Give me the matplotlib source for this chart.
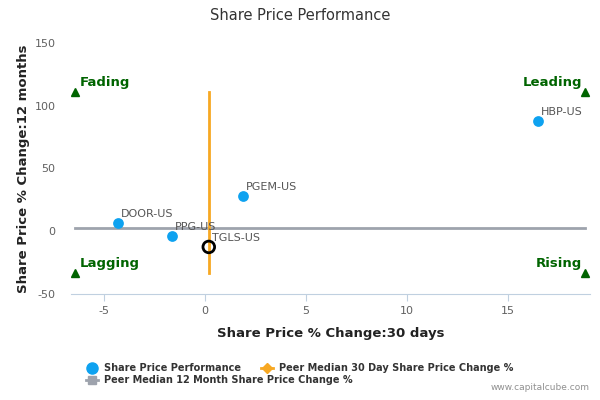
import matplotlib.pyplot as plt
from matplotlib.lines import Line2D

plt.rcParams['axes.unicode_minus'] = False

# data
tickers = ['HBP-US', 'PGEM-US', 'DOOR-US', 'PPG-US']
chg_30d = [16.5, 1.9, -4.3, -1.6]
chg_12m = [87.6, 28.0, 6.4, -4.0]

focus_name = 'TGLS-US'
focus_30d = 0.2
focus_12m = -12.5

median_30d = 0.2
median_12m = 2.4
span_30d = [-6.4, 18.8]
span_12m = [-33, 111]

quadrants = ['Fading', 'Leading', 'Lagging', 'Rising']

blue = '#0ea2f0'
orange = '#f7a823'
grey = '#9ea3ad'
green = '#006400'
label_grey = '#555555'

fig = plt.figure(figsize=(6, 4), dpi=100)
ax = fig.add_axes([0.118, 0.265, 0.865, 0.6275])

# peer median lines
ax.plot(span_30d, [median_12m, median_12m], color=grey, lw=2, zorder=1)
ax.plot([median_30d, median_30d], span_12m, color=orange, lw=2, zorder=2)

# peers
ax.scatter(chg_30d, chg_12m, s=60, color=blue, zorder=3, linewidths=0)
for name, x, y in zip(tickers, chg_30d, chg_12m):
    ax.annotate(name, (x, y), xytext=(2, 3), textcoords='offset points',
                fontsize=8, color=label_grey, ha='left', va='bottom')

# the company itself
ax.scatter([focus_30d], [focus_12m], s=70, facecolor='none', edgecolor='black',
           linewidths=2, zorder=4)
ax.annotate(focus_name, (focus_30d, focus_12m), xytext=(2, 3), textcoords='offset points',
            fontsize=8, color=label_grey, ha='left', va='bottom')

# quadrant markers and names
corners = [(span_30d[0], span_12m[1]), (span_30d[1], span_12m[1]),
           (span_30d[0], span_12m[0]), (span_30d[1], span_12m[0])]
for name, (x, y) in zip(quadrants, corners):
    ax.plot(x, y, marker='^', color=green, markersize=6, zorder=3)
    left = x < 0
    ax.annotate(name, (x, y), xytext=(3 if left else -2, 2), textcoords='offset points',
                fontsize=9.5, fontweight='bold', color=green,
                ha='left' if left else 'right', va='bottom')

ax.set_xlim(-6.63, 19.06)
ax.set_ylim(-50, 150)
ax.set_xticks([-5, 0, 5, 10, 15])
ax.set_yticks([-50, 0, 50, 100, 150])
ax.tick_params(axis='x', colors='#c0d0e0', labelcolor='#606060', labelsize=8, length=5)
ax.tick_params(axis='y', length=0, labelcolor='#606060', labelsize=8, pad=11)
for side in ['top', 'right', 'left']:
    ax.spines[side].set_visible(False)
ax.spines['bottom'].set_color('#c0d0e0')

ax.set_xlabel('Share Price % Change:30 days', fontsize=9.5, fontweight='bold', color='#222222', labelpad=8)
ax.set_ylabel('Share Price % Change:12 months', fontsize=9.5, fontweight='bold', color='#222222', labelpad=3)

fig.text(0.5, 0.96, 'Share Price Performance', ha='center', va='center', fontsize=10.5,
         color='#333333')

# legend, laid out in rows like the original
h_blue = Line2D([], [], marker='o', color=blue, lw=0, markersize=8)
h_orange = Line2D([], [], marker='D', color=orange, lw=2, markersize=5)
h_grey = Line2D([], [], marker='s', color=grey, lw=2, markersize=6)
leg_kw = dict(loc='upper left', frameon=False, fontsize=7, handlelength=1.3, handletextpad=0.6,
              columnspacing=2.0, borderaxespad=0, borderpad=0)
leg1 = fig.legend([h_blue, h_orange],
                  ['Share Price Performance', 'Peer Median 30 Day Share Price Change %'],
                  ncol=2, bbox_to_anchor=(0.143, 0.092), **leg_kw)
leg2 = fig.legend([h_grey], ['Peer Median 12 Month Share Price Change %'],
                  ncol=1, bbox_to_anchor=(0.143, 0.062), **leg_kw)
for leg in (leg1, leg2):
    for t in leg.get_texts():
        t.set_fontweight('bold')
        t.set_color('#333333')

fig.text(0.983, 0.02, 'www.capitalcube.com', ha='right', va='bottom', fontsize=6.5, color='#909090')

fig.savefig('out.png', dpi=100)
